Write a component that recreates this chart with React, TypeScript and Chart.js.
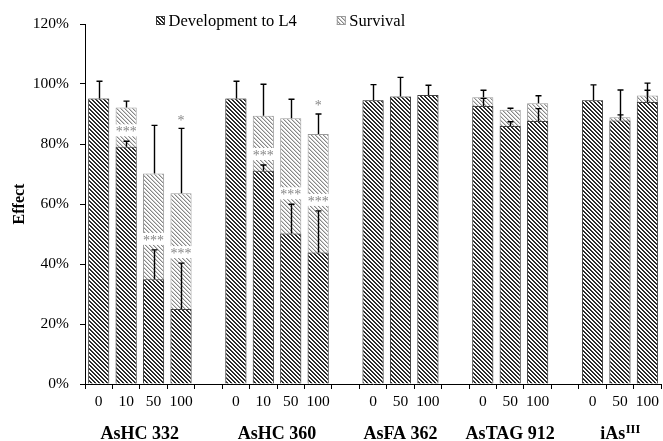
import React, { useEffect, useRef } from 'react';
import { Chart, registerables } from 'chart.js';
Chart.register(...registerables);

const categories = ['0', '10', '50', '100', '', '0', '10', '50', '100', '', '0', '50', '100', '', '0', '50', '100', '', '0', '50', '100'];
const development = [95.2, 79.1, 34.9, 25.0, null, 95.2, 71.1, 50.2, 43.8, null, 94.6, 95.8, 96.3, null, 92.7, 86.0, 87.7, null, 94.6, 87.8, 94.0];
const developmentErr = [5.7, 1.8, 9.8, 15.3, null, 5.7, 1.9, 9.7, 13.9, null, 5.2, 6.4, 3.3, null, 2.5, 1.4, 4.1, null, 5.1, 1.9, 3.9];
const survival = [95.2, 92.2, 70.2, 63.6, null, 95.2, 89.4, 88.6, 83.3, null, 94.6, 95.8, 96.3, null, 95.6, 91.4, 93.6, null, 94.6, 88.9, 96.2];
const survivalErr = [null, 2.1, 16.0, 21.6, null, null, 10.5, 6.3, 6.7, null, null, null, null, null, 2.3, 0.5, 2.5, null, null, 9.1, 4.1];
const developmentSig = ['', '***', '***', '***', '', '', '***', '***', '***', '', '', '', '', '', '', '', '', '', '', '', ''];
const survivalSig = ['', '', '', '*', '', '', '', '', '*', '', '', '', '', '', '', '', '', '', '', '', ''];
const groupNames = ['AsHC 332', 'AsHC 360', 'AsFA 362', 'AsTAG 912', 'iAs'];
const groupSup = ['', '', '', '', 'III'];
const groupStart = [0, 5, 10, 14, 18];
const groupEnd = [3, 8, 12, 16, 20];
const yTicks = [0, 20, 40, 60, 80, 100, 120];

const SERIF = '"Liberation Serif", "Times New Roman", serif';

function makePattern(period: number, fg: string[], bg: string) {
  const c = document.createElement('canvas');
  c.width = period;
  c.height = period;
  const g = c.getContext('2d')!;
  g.fillStyle = bg;
  g.fillRect(0, 0, period, period);
  for (let y = 0; y < period; y++) {
    for (let x = 0; x < period; x++) {
      const k = (((x - y) % period) + period) % period;
      if (k < fg.length && fg[k]) {
        g.fillStyle = fg[k];
        g.fillRect(x, y, 1, 1);
      }
    }
  }
  return g.createPattern(c, 'repeat')!;
}

const overlay = {
  id: 'overlay',
  afterDatasetsDraw(chart: any) {
    const ctx = chart.ctx;
    const xs = chart.scales.x;
    const ys = chart.scales.y;
    const meta = chart.getDatasetMeta(0);
    ctx.save();
    ctx.strokeStyle = '#000';
    ctx.lineWidth = 1.4;
    const drawErr = (i: number, v: number | null, e: number | null) => {
      if (v == null || e == null) return;
      const px = Math.round(xs.getPixelForValue(i)) + 0.5;
      const y0 = ys.getPixelForValue(v);
      const y1 = ys.getPixelForValue(v + e);
      ctx.beginPath();
      ctx.moveTo(px, y0);
      ctx.lineTo(px, y1);
      ctx.moveTo(px - 3, y1);
      ctx.lineTo(px + 3, y1);
      ctx.stroke();
    };
    for (let i = 0; i < categories.length; i++) {
      drawErr(i, survival[i], survivalErr[i]);
      drawErr(i, development[i], developmentErr[i]);
    }
    ctx.font = '14px ' + SERIF;
    ctx.textAlign = 'center';
    ctx.textBaseline = 'middle';
    for (let i = 0; i < categories.length; i++) {
      const px = xs.getPixelForValue(i);
      const bw = meta.data[i] ? meta.data[i].width : 20;
      if (developmentSig[i] && development[i] != null) {
        const top = ys.getPixelForValue((development[i] as number) + ((developmentErr[i] as number) || 0));
        const cy = top - 11;
        ctx.fillStyle = '#fff';
        ctx.fillRect(px - bw / 2 - 1, cy - 6, bw + 2, 12);
        ctx.fillStyle = '#878787';
        ctx.fillText(developmentSig[i], px, cy + 2.5);
      }
      if (survivalSig[i] && survival[i] != null) {
        const top = ys.getPixelForValue((survival[i] as number) + ((survivalErr[i] as number) || 0));
        const cy = top - 10;
        ctx.fillStyle = '#878787';
        ctx.fillText(survivalSig[i], px, cy + 2.5);
      }
    }
    ctx.restore();
  },
  afterDraw(chart: any) {
    const ctx = chart.ctx;
    const xs = chart.scales.x;
    ctx.save();
    ctx.fillStyle = '#000';
    ctx.textBaseline = 'alphabetic';
    for (let g = 0; g < groupNames.length; g++) {
      const cx = (xs.getPixelForValue(groupStart[g]) + xs.getPixelForValue(groupEnd[g])) / 2;
      ctx.font = 'bold 18px ' + SERIF;
      const w1 = ctx.measureText(groupNames[g]).width;
      let w2 = 0;
      if (groupSup[g]) {
        ctx.font = 'bold 12.5px ' + SERIF;
        w2 = ctx.measureText(groupSup[g]).width;
      }
      const sx = cx - (w1 + w2) / 2;
      ctx.textAlign = 'left';
      ctx.font = 'bold 18px ' + SERIF;
      ctx.fillText(groupNames[g], sx, 438.5);
      if (groupSup[g]) {
        ctx.font = 'bold 12.5px ' + SERIF;
        ctx.fillText(groupSup[g], sx + w1 + 0.5, 433);
      }
    }
    const ds = chart.data.datasets;
    let lx = chart.chartArea.left + 71;
    const ly = 21;
    ctx.font = '16.5px ' + SERIF;
    ctx.textBaseline = 'middle';
    ctx.textAlign = 'left';
    for (let d = 0; d < ds.length; d++) {
      ctx.fillStyle = ds[d].backgroundColor;
      ctx.fillRect(lx, ly - 5, 9, 9);
      ctx.strokeStyle = ds[d].borderColor;
      ctx.lineWidth = 1;
      ctx.strokeRect(lx + 0.5, ly - 4.5, 8, 8);
      ctx.fillStyle = '#000';
      ctx.fillText(ds[d].label, lx + 12.5, ly + 1);
      lx += 12.5 + ctx.measureText(ds[d].label).width + 40;
    }
    ctx.restore();
  },
};

export default function App() {
  const ref = useRef<HTMLCanvasElement | null>(null);
  useEffect(() => {
    if (!ref.current) return;
    Chart.defaults.font.family = SERIF;
    const devPattern = makePattern(4, ['#222222', '#363636'], '#ffffff');
    const survPattern = makePattern(4, ['#888888', '#cccccc'], '#ffffff');
    const chart = new Chart(ref.current, {
      type: 'bar',
      data: {
        labels: categories,
        datasets: [
          {
            label: 'Development to L4',
            data: development,
            backgroundColor: devPattern as any,
            borderColor: '#404040',
            borderWidth: 1,
            grouped: false,
            barPercentage: 0.77,
            categoryPercentage: 1,
          },
          {
            label: 'Survival',
            data: survival,
            backgroundColor: survPattern as any,
            borderColor: '#9a9a9a',
            borderWidth: 1,
            grouped: false,
            barPercentage: 0.77,
            categoryPercentage: 1,
          },
        ],
      },
      options: {
        responsive: false,
        animation: false,
        layout: { padding: { top: 24, right: 0, left: 0, bottom: 0 } },
        plugins: { legend: { display: false }, tooltip: { enabled: false } },
        scales: {
          x: {
            grid: { drawOnChartArea: false, drawTicks: true, tickLength: 5, color: '#000', offset: true },
            border: { display: true, color: '#000', width: 1 },
            ticks: { color: '#000', font: { size: 15.5, family: SERIF }, padding: 4, maxRotation: 0, autoSkip: false },
            afterFit: (axis: any) => { axis.height = 57; },
          },
          y: {
            min: 0,
            max: 120,
            afterBuildTicks: (axis: any) => { axis.ticks = yTicks.map((v) => ({ value: v })); },
            grid: { drawOnChartArea: false, drawTicks: true, tickLength: 5, color: '#000' },
            border: { display: true, color: '#000', width: 1 },
            ticks: { color: '#000', font: { size: 15.5, family: SERIF }, padding: 11, callback: (v: any) => v + '%' },
            title: { display: true, text: 'Effect', color: '#000', font: { size: 16, weight: 'bold', family: SERIF }, padding: { top: 10, bottom: 0 } },
            afterFit: (axis: any) => { axis.width = 85; },
          },
        },
      },
      plugins: [overlay],
    });
    return () => chart.destroy();
  }, []);
  return (
    <div style={{ position: 'fixed', left: 0, top: 0, width: 663, height: 441, background: '#fff' }}>
      <canvas ref={ref} width={663} height={441} style={{ width: 663, height: 441, display: 'block' }} />
    </div>
  );
}
